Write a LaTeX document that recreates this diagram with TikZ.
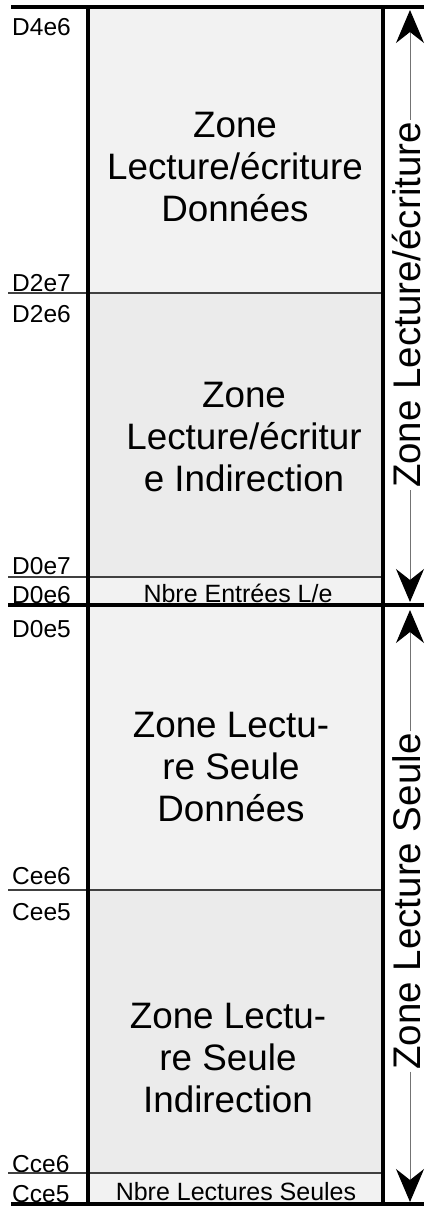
\documentclass[tikz,border=0pt]{standalone}
\usepackage{fontspec}
\setmainfont{Liberation Sans}
\usetikzlibrary{arrows.meta}
\definecolor{zoneA}{HTML}{F2F2F2}
\definecolor{zoneB}{HTML}{EBEBEB}
\begin{document}
\begin{tikzpicture}[x=1pt,y=-1pt,
  thickline/.style={line width=4pt},
  thinline/.style={line width=1.2pt, black!75},
  addr/.style={anchor=base west, inner sep=0pt, font=\fontsize{24.5}{28}\selectfont},
  zonetxt/.style={align=center, inner sep=0pt, font=\fontsize{36.8}{42}\selectfont},
  counttxt/.style={anchor=base, inner sep=0pt, font=\fontsize{25}{28}\selectfont},
  sidetxt/.style={rotate=90, inner xsep=2pt, inner ysep=0pt, text height=21pt, text depth=0pt, font=\fontsize{38.5}{44}\selectfont},
  spanarrow/.style={draw=black!55, line width=1pt, -{Stealth[length=33pt,width=28pt,inset=11pt,color=black]}}
]
\useasboundingbox (0,0) rectangle (424,1207);
% fills
\fill[zoneA] (87,7) rectangle (383,293);
\fill[zoneB] (87,293) rectangle (383,577);
\fill[zoneA] (87,577) rectangle (383,605);
\fill[zoneA] (87,605) rectangle (383,890);
\fill[zoneB] (87,890) rectangle (383,1173);
\fill[zoneA] (87,1173) rectangle (383,1204);
% address labels
\node[addr] (a1) at (12,36) {D4e6};
\node[addr] (a2) at (12,291) {D2e7};
\node[addr] (a3) at (12,322) {D2e6};
\node[addr] (a4) at (12,574) {D0e7};
\node[addr] (a5) at (12,603) {D0e6};
\node[addr] (a6) at (12,637) {D0e5};
\node[addr] (a7) at (12,884) {Cee6};
\node[addr] (a8) at (12,920) {Cee5};
\node[addr] (a9) at (12,1172) {Cce6};
\node[addr] (a10) at (12,1202) {Cce5};
% thin dividers
\draw[thinline] (8,293) -- (383,293);
\draw[thinline] (8,577) -- (383,577);
\draw[thinline] (8,890) -- (383,890);
\draw[thinline] (8,1173) -- (383,1173);
% thick frame
\draw[thickline] (11,7) -- (424,7);
\draw[thickline] (8,605) -- (424,605);
\draw[thickline] (11,1204) -- (424,1204);
\draw[thickline] (87.5,7) -- (87.5,1204);
\draw[line width=3.5pt] (383,7) -- (383,1204);
% zone texts
\node[zonetxt] (z1) at (235,167) {Zone\\Lecture/écriture\\Données};
\node[zonetxt] (z2) at (244,437) {Zone\\Lecture/écritur\\e Indirection};
\node[zonetxt] (z3) at (231,767) {Zone Lectu-\\re Seule\\Données};
\node[zonetxt] (z4) at (228,1058) {Zone Lectu-\\re Seule\\Indirection};
\node[counttxt] (n1) at (238,602) {Nbre Entrées L/e};
\node[counttxt] (n2) at (236,1200) {Nbre Lectures Seules};
% side spans
\node[sidetxt] (rw) at (410,305) {Zone Lecture/écriture};
\coordinate (rwtop) at (410,10);
\coordinate (rwbot) at (410,602);
\draw[spanarrow] (rw.east) -- (rwtop);
\draw[spanarrow] (rw.west) -- (rwbot);
\node[sidetxt] (ro) at (410,901.5) {Zone Lecture Seule};
\coordinate (rotop) at (410,610);
\coordinate (robot) at (410,1202);
\draw[spanarrow] (ro.east) -- (rotop);
\draw[spanarrow] (ro.west) -- (robot);
\end{tikzpicture}
\end{document}
